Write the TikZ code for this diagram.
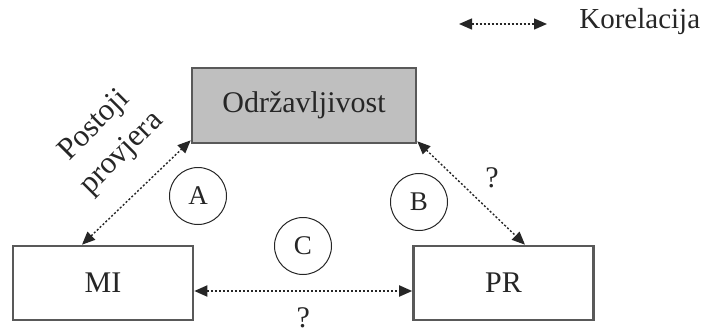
\documentclass[tikz,border=0pt]{standalone}
\usepackage{fontspec}
\setmainfont{Liberation Serif}
\usetikzlibrary{arrows.meta}
\begin{document}
\begin{tikzpicture}[x=0.5pt,y=-0.5pt,font=\fontsize{15}{19.5}\selectfont,n/.style={rectangle,draw=black!65,line width=1.3pt,minimum width=90pt,minimum height=37pt,align=center,text=black!85},c/.style={circle,draw=black!85,line width=0.5pt,minimum size=28.5pt,inner sep=0pt,text=black!85,font=\fontsize{13.5}{15}\selectfont},e/.style={draw=black!85,line width=0.7pt,dash pattern=on 1pt off 1pt,{Triangle[length=6.5pt,width=5.5pt]}-{Triangle[length=6.5pt,width=5.5pt]}},t/.style={rectangle,draw=none,align=center,text=black!85}]

\useasboundingbox (0,0) rectangle (703,333);

\node[n, fill=black!25, minimum width=112pt, minimum height=37.5pt] (odr) at (304,105.5) {Održavljivost};
\node[n] (mi) at (103,283) {MI};
\node[n] (pr) at (503.5,283) {PR};
\node[c] (cA) at (198,196) {A};
\node[c] (cB) at (419,202) {B};
\node[c] (cC) at (303,246) {C};
\path[e] ([xshift=-10.5pt]mi.north) -- ([yshift=2pt]odr.south west);
\path[e] ([yshift=1.5pt]odr.south east) -- ([xshift=10.75pt]pr.north);
\path[e, line width=0.9pt] ([yshift=-4pt]mi.east) -- ([yshift=-4pt]pr.west) node[t, midway, below=4.5pt] (q2) {?};
\node[t, rotate=45, font=\fontsize{15.5}{19.5}\selectfont] (pp) at (108.5,140) {Postoji\\provjera};
\node[t] (q1) at (492,178) {?};

\coordinate (kl) at (459,24);
\coordinate (kr) at (547,24);
\path[e] (kl) -- (kr);
\node[t, anchor=west, inner sep=0pt, font=\fontsize{14.5}{17}\selectfont] (kor) at (579,22) {Korelacija};

\end{tikzpicture}
\end{document}
